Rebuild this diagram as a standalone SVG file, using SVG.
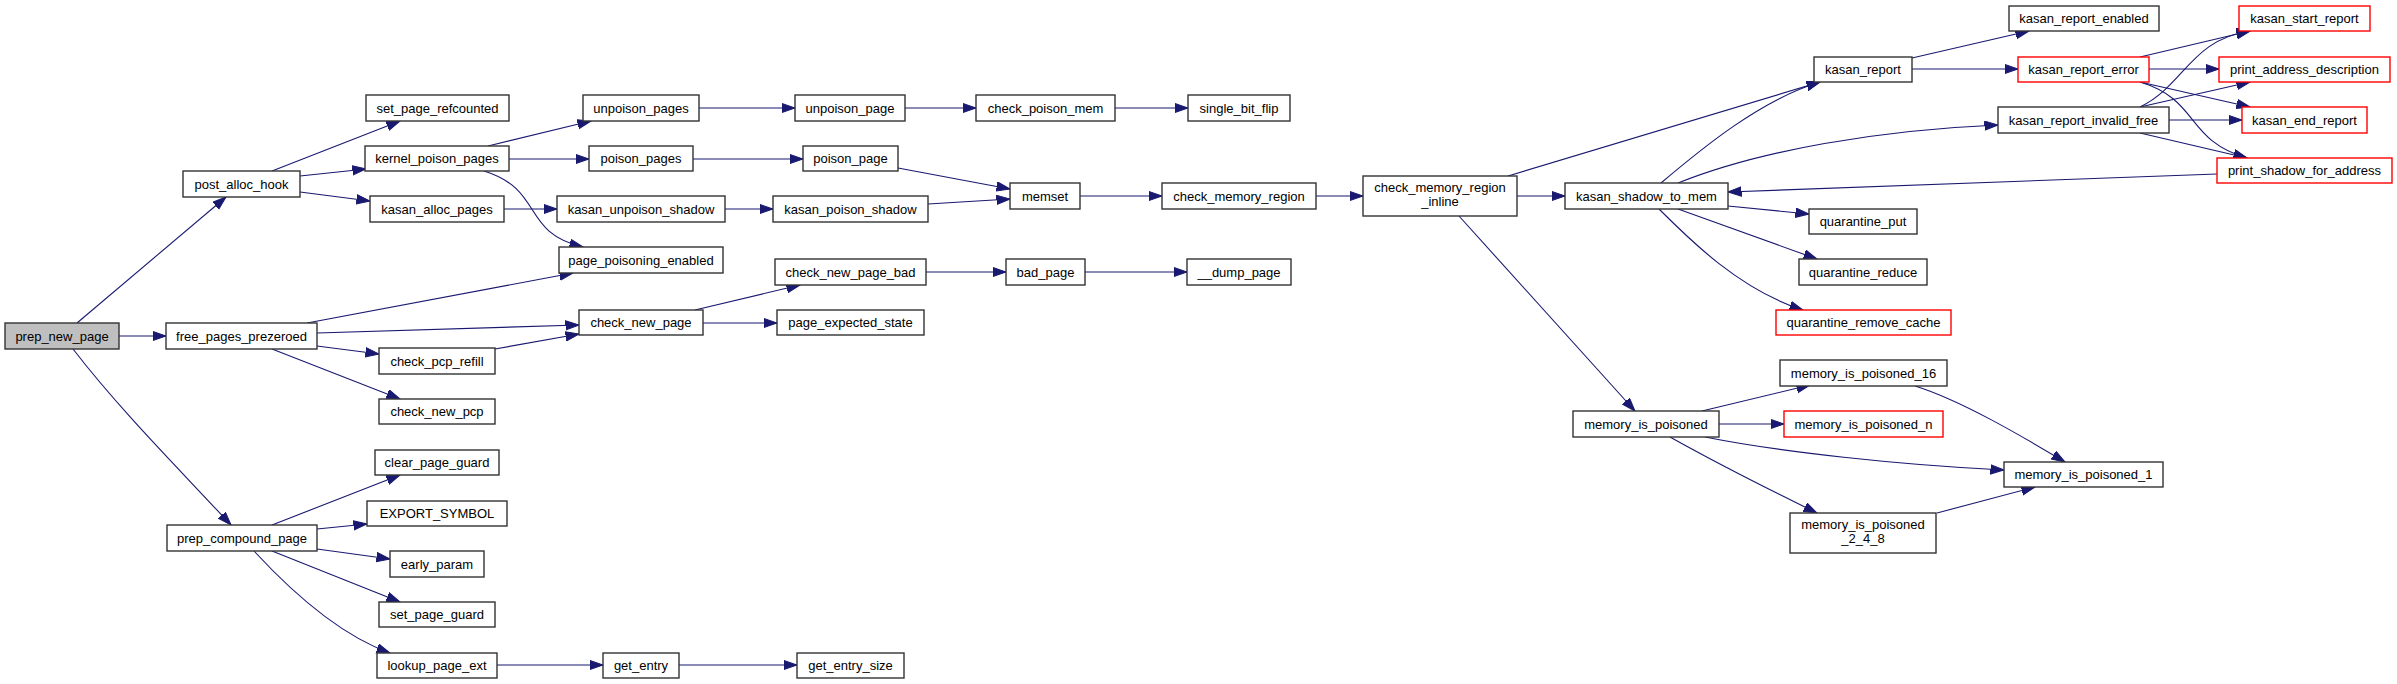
<svg xmlns="http://www.w3.org/2000/svg" width="2397" height="684" viewBox="0 0 2397 684">
<style>
.n rect{fill:#ffffff;stroke:#333333;stroke-width:1.4}
.n.r rect{stroke:#ff0000}
.n.g rect{fill:#bfbfbf}
.n text{font-family:"Liberation Sans",Arial,sans-serif;font-size:13px;fill:#000;text-anchor:middle}
#edges path{fill:none;stroke:#191970;stroke-width:1.1;marker-end:url(#ah)}
</style>
<defs>
<marker id="ah" markerUnits="userSpaceOnUse" markerWidth="15" markerHeight="11" refX="13.5" refY="5" orient="auto">
<path d="M0,0.3 L13.5,5 L0,9.7 z" fill="#191970" stroke="#191970" stroke-width="1"/>
</marker>
</defs>
<rect width="2397" height="684" fill="#ffffff"/>
<g id="edges">
<path d="M77,323 L226,197"/>
<path d="M119,336 L166,336"/>
<path d="M73,349 C120,410 180,470 231,525"/>
<path d="M272,171 L400,121"/>
<path d="M300,176 L366,169"/>
<path d="M300,192 L370,201"/>
<path d="M488,146 L591,121"/>
<path d="M509,159 L589,159"/>
<path d="M484,171 C545,190 520,232 583,247"/>
<path d="M504,209 L557,209"/>
<path d="M307,323 L573,273"/>
<path d="M317,333 L579,325"/>
<path d="M317,346 L379,354"/>
<path d="M272,349 L400,399"/>
<path d="M495,349 L579,334"/>
<path d="M695,310 L800,285"/>
<path d="M703,323 L777,323"/>
<path d="M699,108 L795,108"/>
<path d="M693,159 L803,159"/>
<path d="M725,209 L773,209"/>
<path d="M905,108 L976,108"/>
<path d="M1115,108 L1188,108"/>
<path d="M898,168 L1010,189"/>
<path d="M928,204 L1010,199"/>
<path d="M1080,196 L1162,196"/>
<path d="M926,272 L1006,272"/>
<path d="M1085,272 L1187,272"/>
<path d="M1316,196 L1363,196"/>
<path d="M1517,196 L1565,196"/>
<path d="M1508,176 L1820,82"/>
<path d="M1459,216 L1635,411"/>
<path d="M1661,183 C1700,150 1760,100 1820,82"/>
<path d="M1678,183 C1760,150 1880,130 1998,125"/>
<path d="M2217,174 L1728,192"/>
<path d="M1728,206 L1809,214"/>
<path d="M1678,209 L1817,259"/>
<path d="M1659,209 C1690,240 1740,290 1803,310"/>
<path d="M1912,58 L2029,31"/>
<path d="M1912,69 L2018,69"/>
<path d="M2140,57 L2250,31"/>
<path d="M2149,69 L2219,69"/>
<path d="M2140,82 L2250,107"/>
<path d="M2140,82 C2200,100 2185,140 2247,158"/>
<path d="M2140,107 C2185,85 2190,40 2250,31"/>
<path d="M2140,107 L2250,82"/>
<path d="M2169,120 L2242,120"/>
<path d="M2140,133 L2247,158"/>
<path d="M1702,411 L1810,385"/>
<path d="M1719,424 L1784,424"/>
<path d="M1705,437 C1780,452 1900,465 2004,470"/>
<path d="M1670,437 C1720,465 1770,490 1817,513"/>
<path d="M1915,386 C1960,400 2020,435 2065,462"/>
<path d="M1937,513 L2035,487"/>
<path d="M272,525 L400,475"/>
<path d="M317,529 L367,524"/>
<path d="M317,549 L390,559"/>
<path d="M272,551 L400,602"/>
<path d="M254,551 C290,590 340,635 390,653"/>
<path d="M497,665 L603,665"/>
<path d="M679,665 L797,665"/>
</g>
<g id="prep_new_page" class="n g"><rect x="5" y="323" width="114" height="26"/><text x="62" y="340.5">prep_new_page</text></g>
<g id="post_alloc_hook" class="n"><rect x="183" y="171" width="117" height="26"/><text x="241.5" y="188.5">post_alloc_hook</text></g>
<g id="free_pages_prezeroed" class="n"><rect x="166" y="323" width="151" height="26"/><text x="241.5" y="340.5">free_pages_prezeroed</text></g>
<g id="prep_compound_page" class="n"><rect x="167" y="525" width="150" height="26"/><text x="242" y="542.5">prep_compound_page</text></g>
<g id="set_page_refcounted" class="n"><rect x="366" y="95" width="143" height="26"/><text x="437.5" y="112.5">set_page_refcounted</text></g>
<g id="kernel_poison_pages" class="n"><rect x="365" y="146" width="144" height="25"/><text x="437" y="162.5">kernel_poison_pages</text></g>
<g id="kasan_alloc_pages" class="n"><rect x="370" y="196" width="134" height="26"/><text x="437" y="213.5">kasan_alloc_pages</text></g>
<g id="page_poisoning_enabled" class="n"><rect x="559" y="247" width="164" height="26"/><text x="641" y="264.5">page_poisoning_enabled</text></g>
<g id="check_pcp_refill" class="n"><rect x="379" y="348" width="116" height="26"/><text x="437" y="365.5">check_pcp_refill</text></g>
<g id="check_new_pcp" class="n"><rect x="379" y="399" width="116" height="25"/><text x="437" y="415.5">check_new_pcp</text></g>
<g id="clear_page_guard" class="n"><rect x="375" y="450" width="124" height="25"/><text x="437" y="466.5">clear_page_guard</text></g>
<g id="EXPORT_SYMBOL" class="n"><rect x="367" y="501" width="140" height="25"/><text x="437" y="517.5">EXPORT_SYMBOL</text></g>
<g id="early_param" class="n"><rect x="390" y="551" width="94" height="26"/><text x="437" y="568.5">early_param</text></g>
<g id="set_page_guard" class="n"><rect x="379" y="602" width="116" height="25"/><text x="437" y="618.5">set_page_guard</text></g>
<g id="lookup_page_ext" class="n"><rect x="377" y="653" width="120" height="25"/><text x="437" y="669.5">lookup_page_ext</text></g>
<g id="unpoison_pages" class="n"><rect x="583" y="95" width="116" height="26"/><text x="641" y="112.5">unpoison_pages</text></g>
<g id="poison_pages" class="n"><rect x="589" y="146" width="104" height="25"/><text x="641" y="162.5">poison_pages</text></g>
<g id="kasan_unpoison_shadow" class="n"><rect x="557" y="196" width="168" height="26"/><text x="641" y="213.5">kasan_unpoison_shadow</text></g>
<g id="check_new_page" class="n"><rect x="579" y="310" width="124" height="25"/><text x="641" y="326.5">check_new_page</text></g>
<g id="get_entry" class="n"><rect x="603" y="653" width="76" height="25"/><text x="641" y="669.5">get_entry</text></g>
<g id="unpoison_page" class="n"><rect x="795" y="95" width="110" height="26"/><text x="850" y="112.5">unpoison_page</text></g>
<g id="poison_page" class="n"><rect x="803" y="146" width="95" height="25"/><text x="850.5" y="162.5">poison_page</text></g>
<g id="kasan_poison_shadow" class="n"><rect x="773" y="196" width="155" height="26"/><text x="850.5" y="213.5">kasan_poison_shadow</text></g>
<g id="check_new_page_bad" class="n"><rect x="775" y="259" width="151" height="26"/><text x="850.5" y="276.5">check_new_page_bad</text></g>
<g id="page_expected_state" class="n"><rect x="777" y="310" width="147" height="25"/><text x="850.5" y="326.5">page_expected_state</text></g>
<g id="get_entry_size" class="n"><rect x="797" y="653" width="107" height="25"/><text x="850.5" y="669.5">get_entry_size</text></g>
<g id="check_poison_mem" class="n"><rect x="976" y="95" width="139" height="26"/><text x="1045.5" y="112.5">check_poison_mem</text></g>
<g id="memset" class="n"><rect x="1010" y="183" width="70" height="26"/><text x="1045" y="200.5">memset</text></g>
<g id="bad_page" class="n"><rect x="1006" y="259" width="79" height="26"/><text x="1045.5" y="276.5">bad_page</text></g>
<g id="single_bit_flip" class="n"><rect x="1188" y="95" width="102" height="26"/><text x="1239" y="112.5">single_bit_flip</text></g>
<g id="check_memory_region" class="n"><rect x="1162" y="183" width="154" height="26"/><text x="1239" y="200.5">check_memory_region</text></g>
<g id="__dump_page" class="n"><rect x="1187" y="259" width="104" height="26"/><text x="1239" y="276.5">__dump_page</text></g>
<g id="check_memory_region_inline" class="n"><rect x="1363" y="176" width="154" height="40"/><text x="1440" y="191.5">check_memory_region</text><text x="1440" y="205.5">_inline</text></g>
<g id="kasan_shadow_to_mem" class="n"><rect x="1565" y="183" width="163" height="26"/><text x="1646.5" y="200.5">kasan_shadow_to_mem</text></g>
<g id="memory_is_poisoned" class="n"><rect x="1573" y="411" width="146" height="26"/><text x="1646" y="428.5">memory_is_poisoned</text></g>
<g id="kasan_report" class="n"><rect x="1814" y="57" width="98" height="25"/><text x="1863" y="73.5">kasan_report</text></g>
<g id="quarantine_put" class="n"><rect x="1809" y="209" width="108" height="25"/><text x="1863" y="225.5">quarantine_put</text></g>
<g id="quarantine_reduce" class="n"><rect x="1799" y="259" width="128" height="26"/><text x="1863" y="276.5">quarantine_reduce</text></g>
<g id="quarantine_remove_cache" class="n r"><rect x="1776" y="310" width="175" height="25"/><text x="1863.5" y="326.5">quarantine_remove_cache</text></g>
<g id="memory_is_poisoned_16" class="n"><rect x="1780" y="360" width="167" height="26"/><text x="1863.5" y="377.5">memory_is_poisoned_16</text></g>
<g id="memory_is_poisoned_n" class="n r"><rect x="1784" y="411" width="159" height="26"/><text x="1863.5" y="428.5">memory_is_poisoned_n</text></g>
<g id="memory_is_poisoned_2_4_8" class="n"><rect x="1790" y="513" width="146" height="40"/><text x="1863" y="528.5">memory_is_poisoned</text><text x="1863" y="542.5">_2_4_8</text></g>
<g id="kasan_report_enabled" class="n"><rect x="2009" y="6" width="150" height="25"/><text x="2084" y="22.5">kasan_report_enabled</text></g>
<g id="kasan_report_error" class="n r"><rect x="2018" y="57" width="131" height="25"/><text x="2083.5" y="73.5">kasan_report_error</text></g>
<g id="kasan_report_invalid_free" class="n"><rect x="1998" y="107" width="171" height="26"/><text x="2083.5" y="124.5">kasan_report_invalid_free</text></g>
<g id="memory_is_poisoned_1" class="n"><rect x="2004" y="462" width="159" height="25"/><text x="2083.5" y="478.5">memory_is_poisoned_1</text></g>
<g id="kasan_start_report" class="n r"><rect x="2239" y="6" width="131" height="25"/><text x="2304.5" y="22.5">kasan_start_report</text></g>
<g id="print_address_description" class="n r"><rect x="2219" y="57" width="171" height="25"/><text x="2304.5" y="73.5">print_address_description</text></g>
<g id="kasan_end_report" class="n r"><rect x="2242" y="107" width="125" height="26"/><text x="2304.5" y="124.5">kasan_end_report</text></g>
<g id="print_shadow_for_address" class="n r"><rect x="2217" y="158" width="175" height="25"/><text x="2304.5" y="174.5">print_shadow_for_address</text></g>
</svg>
